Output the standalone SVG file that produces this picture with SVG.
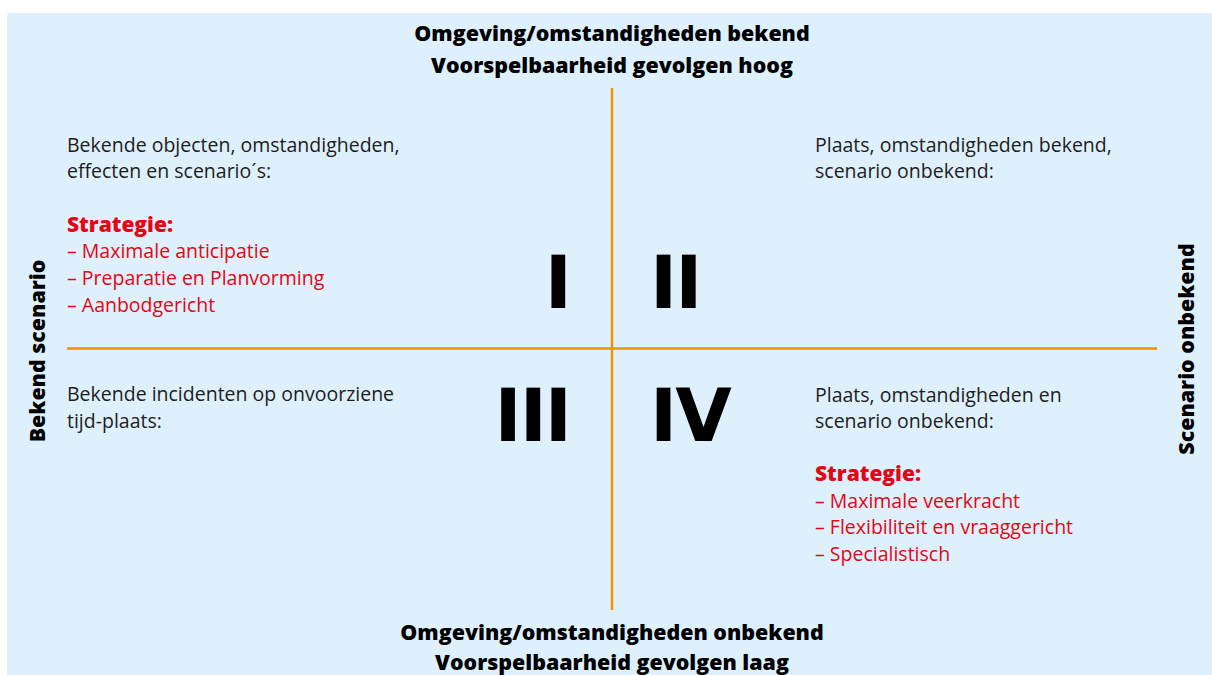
<svg xmlns="http://www.w3.org/2000/svg" width="1212" height="675" viewBox="0 0 1212 675">
<style>
.t{font-family:"Open Sans","Liberation Sans",sans-serif;font-size:19.5px;fill:#1d1d1b}
.r{font-family:"Open Sans","Liberation Sans",sans-serif;font-size:19.5px;fill:#e30613}
.rb{font-family:"Open Sans","Liberation Sans",sans-serif;font-size:21px;font-weight:800;fill:#e30613}
.h{font-family:"Open Sans","Liberation Sans",sans-serif;font-size:21.4px;font-weight:800;fill:#000;text-anchor:middle}
.n{font-family:"DejaVu Sans",sans-serif;font-size:73px;font-weight:bold;fill:#000;letter-spacing:-2px}
.ax{stroke:#f39200;stroke-width:2.5;fill:none}
</style>
<rect x="7" y="13" width="1205" height="662" fill="#dff0fd"/>
<g id="connectors">
<line class="ax" x1="612" y1="88" x2="612" y2="610"/>
<line class="ax" x1="67" y1="348.5" x2="1157" y2="348.5"/>
</g>
<g id="top-label">
<text class="h" x="612" y="41">Omgeving/omstandigheden bekend</text>
<text class="h" x="612" y="73">Voorspelbaarheid gevolgen hoog</text>
</g>
<g id="bottom-label">
<text class="h" x="612" y="640">Omgeving/omstandigheden onbekend</text>
<text class="h" x="612" y="670">Voorspelbaarheid gevolgen laag</text>
</g>
<g id="left-label">
<text class="h" transform="translate(45,351) rotate(-90)">Bekend scenario</text>
</g>
<g id="right-label">
<text class="h" transform="translate(1194,349) rotate(-90)">Scenario onbekend</text>
</g>
<g id="q1">
<text class="t" x="67" y="152">Bekende objecten, omstandigheden,</text>
<text class="t" x="67" y="178">effecten en scenario´s:</text>
<text class="rb" x="67" y="232">Strategie:</text>
<text class="r" x="67" y="258">– Maximale anticipatie</text>
<text class="r" x="67" y="285">– Preparatie en Planvorming</text>
<text class="r" x="67" y="312">– Aanbodgericht</text>
<text class="n" x="570" y="308" text-anchor="end">I</text>
</g>
<g id="q2">
<text class="t" x="815" y="152">Plaats, omstandigheden bekend,</text>
<text class="t" x="815" y="178">scenario onbekend:</text>
<text class="n" x="650" y="308">II</text>
</g>
<g id="q3">
<text class="t" x="67" y="401">Bekende incidenten op onvoorziene</text>
<text class="t" x="67" y="428">tijd-plaats:</text>
<text class="n" x="570" y="441" text-anchor="end">III</text>
</g>
<g id="q4">
<text class="t" x="815" y="402">Plaats, omstandigheden en</text>
<text class="t" x="815" y="428">scenario onbekend:</text>
<text class="rb" x="815" y="481">Strategie:</text>
<text class="r" x="815" y="508">– Maximale veerkracht</text>
<text class="r" x="815" y="534">– Flexibiliteit en vraaggericht</text>
<text class="r" x="815" y="561">– Specialistisch</text>
<text class="n" x="650" y="441">IV</text>
</g>
</svg>
